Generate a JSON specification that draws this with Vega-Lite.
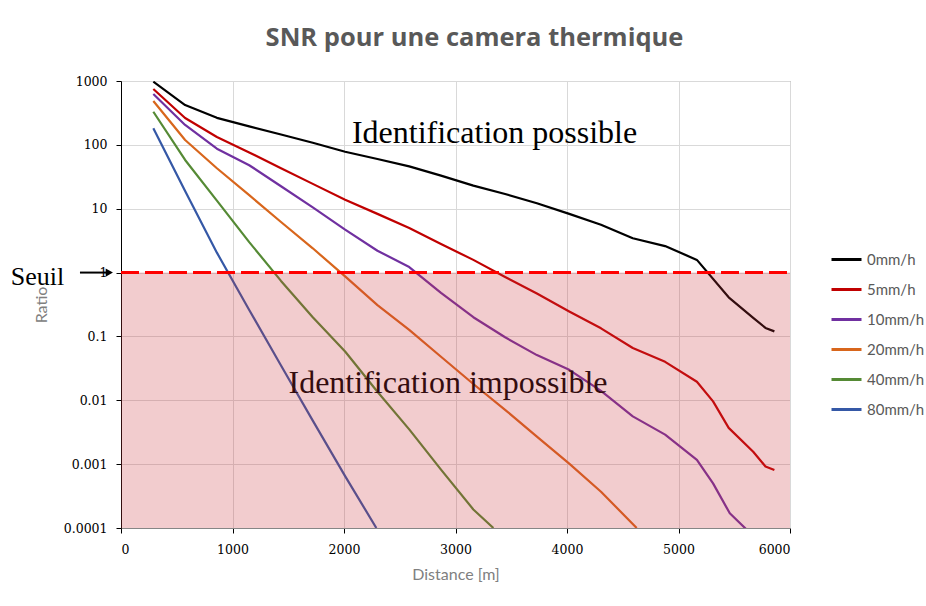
{
  "$schema": "https://vega.github.io/schema/vega-lite/v6.json",
  "width": 669,
  "height": 447,
  "autosize": "none",
  "padding": {"left": 121, "top": 81, "right": 136, "bottom": 78},
  "background": "white",
  "config": {
    "view": {"stroke": "#868686", "strokeWidth": 1},
    "legend": {"symbolType": "stroke", "symbolStrokeWidth": 3, "symbolSize": 900, "labelFont": "Lato", "labelFontSize": 15, "labelColor": "#595959", "rowPadding": 5, "labelOffset": 4}
  },
  "title": {"text": "SNR pour une camera thermique", "font": "Open Sans", "fontSize": 25.5, "fontWeight": "bold", "color": "#595959", "baseline": "alphabetic", "offset": 4, "dx": 19},
  "datasets": {
    "one": [{"k": 1}],
    "snr": [
      {"series": "0mm/h", "d": 290, "v": 975}, {"series": "0mm/h", "d": 575, "v": 420}, {"series": "0mm/h", "d": 860, "v": 265}, {"series": "0mm/h", "d": 1150, "v": 195}, {"series": "0mm/h", "d": 1435, "v": 145}, {"series": "0mm/h", "d": 1720, "v": 108}, {"series": "0mm/h", "d": 2010, "v": 78}, {"series": "0mm/h", "d": 2300, "v": 60}, {"series": "0mm/h", "d": 2585, "v": 46}, {"series": "0mm/h", "d": 2870, "v": 33}, {"series": "0mm/h", "d": 3160, "v": 23}, {"series": "0mm/h", "d": 3445, "v": 17}, {"series": "0mm/h", "d": 3730, "v": 12.2}, {"series": "0mm/h", "d": 4020, "v": 8.3}, {"series": "0mm/h", "d": 4305, "v": 5.6}, {"series": "0mm/h", "d": 4590, "v": 3.45}, {"series": "0mm/h", "d": 4880, "v": 2.6}, {"series": "0mm/h", "d": 5165, "v": 1.58}, {"series": "0mm/h", "d": 5450, "v": 0.41}, {"series": "0mm/h", "d": 5670, "v": 0.195}, {"series": "0mm/h", "d": 5780, "v": 0.136}, {"series": "0mm/h", "d": 5860, "v": 0.12},
      {"series": "5mm/h", "d": 290, "v": 750}, {"series": "5mm/h", "d": 575, "v": 263}, {"series": "5mm/h", "d": 860, "v": 133}, {"series": "5mm/h", "d": 1150, "v": 76}, {"series": "5mm/h", "d": 1435, "v": 43}, {"series": "5mm/h", "d": 1720, "v": 24.5}, {"series": "5mm/h", "d": 2010, "v": 13.8}, {"series": "5mm/h", "d": 2300, "v": 8.3}, {"series": "5mm/h", "d": 2585, "v": 5.0}, {"series": "5mm/h", "d": 2870, "v": 2.8}, {"series": "5mm/h", "d": 3160, "v": 1.58}, {"series": "5mm/h", "d": 3445, "v": 0.85}, {"series": "5mm/h", "d": 3730, "v": 0.47}, {"series": "5mm/h", "d": 4020, "v": 0.246}, {"series": "5mm/h", "d": 4305, "v": 0.134}, {"series": "5mm/h", "d": 4590, "v": 0.066}, {"series": "5mm/h", "d": 4880, "v": 0.040}, {"series": "5mm/h", "d": 5165, "v": 0.0195}, {"series": "5mm/h", "d": 5310, "v": 0.0096}, {"series": "5mm/h", "d": 5450, "v": 0.0037}, {"series": "5mm/h", "d": 5670, "v": 0.00156}, {"series": "5mm/h", "d": 5780, "v": 0.00092}, {"series": "5mm/h", "d": 5860, "v": 0.00081},
      {"series": "10mm/h", "d": 290, "v": 625}, {"series": "10mm/h", "d": 575, "v": 205}, {"series": "10mm/h", "d": 860, "v": 87}, {"series": "10mm/h", "d": 1150, "v": 48}, {"series": "10mm/h", "d": 1435, "v": 22.5}, {"series": "10mm/h", "d": 1720, "v": 10.5}, {"series": "10mm/h", "d": 2010, "v": 4.7}, {"series": "10mm/h", "d": 2300, "v": 2.2}, {"series": "10mm/h", "d": 2585, "v": 1.22}, {"series": "10mm/h", "d": 2870, "v": 0.48}, {"series": "10mm/h", "d": 3160, "v": 0.20}, {"series": "10mm/h", "d": 3445, "v": 0.097}, {"series": "10mm/h", "d": 3730, "v": 0.051}, {"series": "10mm/h", "d": 4020, "v": 0.030}, {"series": "10mm/h", "d": 4305, "v": 0.014}, {"series": "10mm/h", "d": 4590, "v": 0.0056}, {"series": "10mm/h", "d": 4880, "v": 0.0029}, {"series": "10mm/h", "d": 5165, "v": 0.00117}, {"series": "10mm/h", "d": 5310, "v": 0.0005}, {"series": "10mm/h", "d": 5460, "v": 0.00017}, {"series": "10mm/h", "d": 5615, "v": 0.000093},
      {"series": "20mm/h", "d": 290, "v": 487}, {"series": "20mm/h", "d": 575, "v": 119}, {"series": "20mm/h", "d": 860, "v": 43}, {"series": "20mm/h", "d": 1150, "v": 16.3}, {"series": "20mm/h", "d": 1435, "v": 6.2}, {"series": "20mm/h", "d": 1720, "v": 2.4}, {"series": "20mm/h", "d": 2010, "v": 0.87}, {"series": "20mm/h", "d": 2300, "v": 0.31}, {"series": "20mm/h", "d": 2585, "v": 0.127}, {"series": "20mm/h", "d": 2870, "v": 0.048}, {"series": "20mm/h", "d": 3160, "v": 0.018}, {"series": "20mm/h", "d": 3445, "v": 0.0071}, {"series": "20mm/h", "d": 3730, "v": 0.0027}, {"series": "20mm/h", "d": 4020, "v": 0.00102}, {"series": "20mm/h", "d": 4305, "v": 0.00037}, {"series": "20mm/h", "d": 4625, "v": 0.0001},
      {"series": "40mm/h", "d": 290, "v": 330}, {"series": "40mm/h", "d": 575, "v": 58}, {"series": "40mm/h", "d": 860, "v": 13.4}, {"series": "40mm/h", "d": 1150, "v": 3.0}, {"series": "40mm/h", "d": 1435, "v": 0.74}, {"series": "40mm/h", "d": 1720, "v": 0.20}, {"series": "40mm/h", "d": 2010, "v": 0.058}, {"series": "40mm/h", "d": 2300, "v": 0.0136}, {"series": "40mm/h", "d": 2585, "v": 0.0035}, {"series": "40mm/h", "d": 2870, "v": 0.00082}, {"series": "40mm/h", "d": 3160, "v": 0.000195}, {"series": "40mm/h", "d": 3340, "v": 0.0001},
      {"series": "80mm/h", "d": 290, "v": 182}, {"series": "80mm/h", "d": 575, "v": 19}, {"series": "80mm/h", "d": 860, "v": 2.05}, {"series": "80mm/h", "d": 1150, "v": 0.26}, {"series": "80mm/h", "d": 1435, "v": 0.035}, {"series": "80mm/h", "d": 1720, "v": 0.0048}, {"series": "80mm/h", "d": 2010, "v": 0.00065}, {"series": "80mm/h", "d": 2290, "v": 0.0001}
    ]
  },
  "layer": [
    {
      "data": {"name": "snr"},
      "mark": {"type": "line", "strokeWidth": 2.2, "clip": true, "strokeJoin": "round"},
      "encoding": {
        "x": {"field": "d", "type": "quantitative", "title": "Distance [m]",
          "scale": {"domain": [0, 6000], "nice": false, "zero": false},
          "axis": {"values": [0, 1000, 2000, 3000, 4000, 5000, 6000], "format": "d", "labelFont": "DejaVu Serif", "labelFontSize": 12.5, "labelColor": "#000000", "tickColor": "#000000", "tickSize": 5, "labelPadding": 10, "domainColor": "#868686", "gridColor": "#d9d9d9", "titleFont": "Lato", "titleFontSize": 16, "titleFontWeight": "normal", "titleColor": "#808080", "titlePadding": 11}},
        "y": {"field": "v", "type": "quantitative", "title": "Ratio",
          "scale": {"type": "log", "domain": [0.0001, 1000], "nice": false},
          "axis": {"values": [0.0001, 0.001, 0.01, 0.1, 1, 10, 100, 1000], "format": "~g", "labelFont": "DejaVu Serif", "labelFontSize": 12.5, "labelColor": "#000000", "tickColor": "#000000", "tickSize": 5, "labelPadding": 9, "domainColor": "#000000", "gridColor": "#d9d9d9", "titleFont": "Lato", "titleFontSize": 16, "titleFontWeight": "normal", "titleColor": "#808080", "titlePadding": 14}},
        "color": {"field": "series", "type": "nominal",
          "scale": {"domain": ["0mm/h", "5mm/h", "10mm/h", "20mm/h", "40mm/h", "80mm/h"], "range": ["#000000", "#c00000", "#7030a0", "#d8661c", "#558a35", "#3558a6"]},
          "legend": {"title": null, "orient": "none", "legendX": 709, "legendY": 162}}
      }
    },
    {
      "data": {"name": "one"},
      "mark": {"type": "text", "text": "Identification possible", "font": "Liberation Serif", "fontSize": 32, "align": "center", "baseline": "alphabetic", "color": "#000000"},
      "encoding": {"x": {"datum": 3350, "type": "quantitative"}, "y": {"datum": 106, "type": "quantitative"}}
    },
    {
      "data": {"name": "one"},
      "mark": {"type": "text", "text": "Identification impossible", "font": "Liberation Serif", "fontSize": 32, "align": "center", "baseline": "alphabetic", "color": "#000000"},
      "encoding": {"x": {"datum": 2933, "type": "quantitative"}, "y": {"datum": 0.0131, "type": "quantitative"}}
    },
    {
      "data": {"name": "one"},
      "mark": {"type": "rect", "color": "#cc343c", "opacity": 0.25},
      "encoding": {"x": {"datum": 0, "type": "quantitative"}, "x2": {"datum": 6000}, "y": {"datum": 1, "type": "quantitative"}, "y2": {"datum": 0.0001}}
    },
    {
      "data": {"name": "one"},
      "mark": {"type": "rule", "color": "#ff0000", "strokeWidth": 3, "strokeDash": [18, 6]},
      "encoding": {"x": {"datum": 0, "type": "quantitative"}, "x2": {"datum": 6000}, "y": {"datum": 1, "type": "quantitative"}}
    },
    {
      "data": {"name": "one"},
      "mark": {"type": "rule", "color": "#000000", "strokeWidth": 2, "clip": false},
      "encoding": {"x": {"datum": -368, "type": "quantitative"}, "x2": {"datum": -100}, "y": {"datum": 1, "type": "quantitative"}}
    },
    {
      "data": {"name": "one"},
      "mark": {"type": "point", "shape": "triangle-right", "filled": true, "color": "#000000", "size": 70, "opacity": 1, "clip": false},
      "encoding": {"x": {"datum": -105, "type": "quantitative"}, "y": {"datum": 1, "type": "quantitative"}}
    },
    {
      "data": {"name": "one"},
      "mark": {"type": "text", "text": "Seuil", "font": "Liberation Serif", "fontSize": 26, "align": "center", "baseline": "alphabetic", "dy": 12, "color": "#000000", "clip": false},
      "encoding": {"x": {"datum": -749, "type": "quantitative"}, "y": {"datum": 1, "type": "quantitative"}}
    }
  ]
}
